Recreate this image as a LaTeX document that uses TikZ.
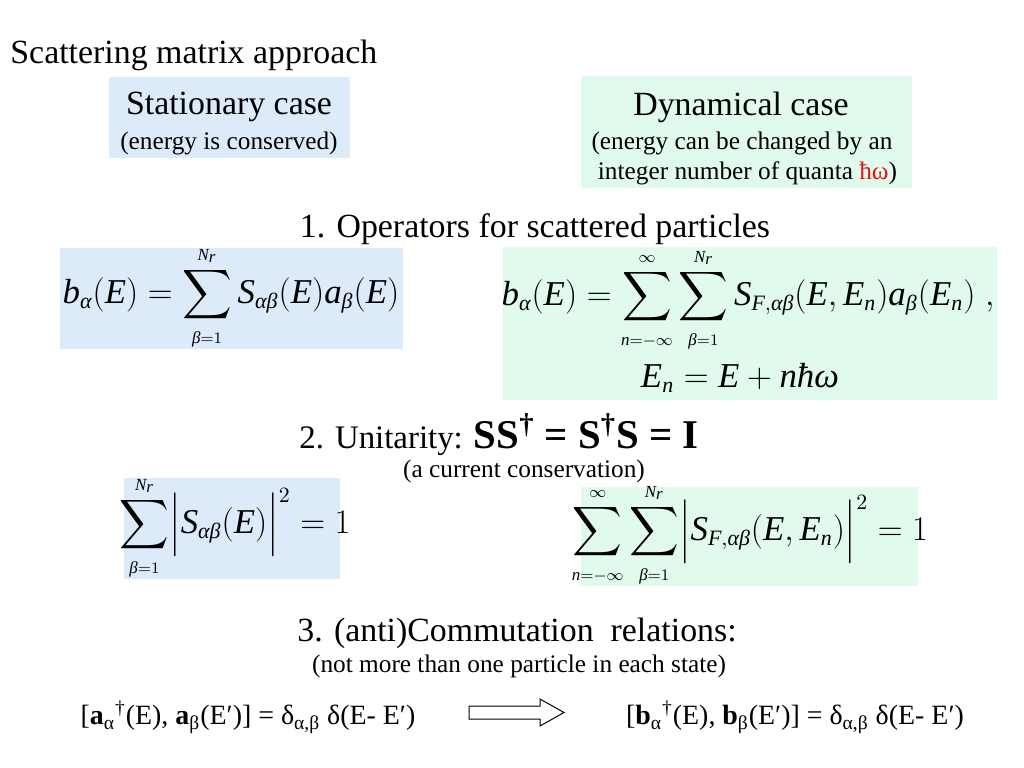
\documentclass[tikz,border=0pt]{standalone}
\usepackage{amsmath}
\usepackage{fontspec}
\setmainfont{Liberation Serif}
\usetikzlibrary{positioning}
% italic math letters taken from the text font
\DeclareSymbolFont{tletters}{TU}{\rmdefault}{m}{it}
\newcommand{\setmathit}[1]{\Umathcode`#1="7 \symtletters `#1\relax}
\setmathit a \setmathit b \setmathit n \setmathit r
\setmathit E \setmathit F \setmathit N \setmathit S
\AtBeginDocument{%
  \Umathchardef\alpha="7 \symtletters "03B1
  \Umathchardef\beta="7 \symtletters "03B2
  \Umathchardef\omega="7 \symtletters "03C9
  \Umathchardef\hbar="7 \symtletters "0127
}
\DeclareMathSizes{17.5}{17.5}{11}{8.5}
\newcommand{\limsz}[1]{{\scriptscriptstyle #1}}
\definecolor{statblue}{RGB}{221,234,250}
\definecolor{dyngreen}{RGB}{224,250,236}
\definecolor{quantared}{RGB}{230,20,20}
\newcommand{\headsize}{\fontsize{17}{20}\selectfont}
\newcommand{\remsize}{\fontsize{12.7}{15}\selectfont}
\tikzset{
  statbox/.style={
    rectangle, fill=statblue, inner sep=0pt
  },
  dynbox/.style={
    rectangle, fill=dyngreen, inner sep=0pt
  },
  headline/.style={
    inner sep=0pt, font=\headsize
  },
  remark/.style={
    inner sep=0pt, font=\remsize
  },
  formula/.style={
    inner sep=0pt, font=\fontsize{17.5}{21}\selectfont
  },
  relation/.style={
    inner sep=0pt, font=\fontsize{14}{16}\selectfont
  }
}

\begin{document}
\begin{tikzpicture}[x=0.5bp, y=-0.5bp]
  \useasboundingbox (0,0) rectangle (1024,768);

  \node[headline, anchor=west] (title) at (10,55) {Scattering matrix approach};

  % coloured boxes
  \node[statbox, minimum width=120.5bp, minimum height=40.5bp] (stat) at (229.5,117.5) {};
  \node[dynbox, minimum width=165.5bp, minimum height=56bp] (dyn) at (746.5,132) {};
  \node[statbox, minimum width=171.5bp, minimum height=50.5bp] (statopbox) at (231.5,298.5) {};
  \node[dynbox, minimum width=247bp, minimum height=76.5bp] (dynopbox) at (750,323.5) {};
  \node[statbox, minimum width=108bp, minimum height=50.5bp] (statsumbox) at (232,528.5) {};
  \node[dynbox, minimum width=168.5bp, minimum height=49.5bp] (dynsumbox) at (749.5,536.5) {};

  \node[headline] (statname) at (229,107) {Stationary case};
  \node[remark] (statnote) at (229,143) {(energy is conserved)};
  \node[headline] (dynname) at (741,107) {Dynamical case};
  \node[remark] (dynnote) at (742,143) {(energy can be changed by an};
  \node[remark] (dynnotes) at (747.5,173) {integer number of quanta \textcolor{quantared}{ħω})};

  \node[headline] (ops) at (535,229) {1. Operators for scattered particles};

  \node[formula] (statop) at (231,298)
    {$\displaystyle b_\alpha(E) = \sum_{\limsz{\beta=1}}^{\limsz{N_r}} S_{\alpha\beta}(E)a_\beta(E)$};
  \node[formula] (dynop) at (748,300)
    {$\displaystyle b_\alpha(E) = \sum_{\limsz{n=-\infty}}^{\limsz{\infty}}\sum_{\limsz{\beta=1}}^{\limsz{N_r}} S_{F,\alpha\beta}(E,E_n)a_\beta(E_n)\;,$};
  \node[formula] (energy) at (740,378) {$E_n = E + n\hbar\omega$};

  \node[headline, font=\fontsize{16.5}{20}\selectfont] (unit) at (499,435)
    {2. Unitarity: {\fontsize{20.5}{24}\selectfont\bfseries SS\textsuperscript{†} = S\textsuperscript{†}S = I}};
  \node[remark] (unitnote) at (524,471) {(a current conservation)};

  \node[formula] (statsum) at (235,528)
    {$\displaystyle \sum_{\limsz{\beta=1}}^{\limsz{N_r}}\Bigl|S_{\alpha\beta}(E)\Bigr|^2 = 1$};
  \node[formula] (dynsum) at (750,535)
    {$\displaystyle \sum_{\limsz{n=-\infty}}^{\limsz{\infty}}\sum_{\limsz{\beta=1}}^{\limsz{N_r}}\Bigl|S_{F,\alpha\beta}(E,E_n)\Bigr|^2 = 1$};

  \node[headline] (comm) at (517,633) {3. (anti)Commutation \ relations:};
  \node[remark] (commnote) at (519,666) {(not more than one particle in each state)};

  \node[relation] (statcomm) at (248,717)
    {[\textbf{a}\textsubscript{α}\textsuperscript{†}(E), \textbf{a}\textsubscript{β}(E′)] = δ\textsubscript{α,β} δ(E- E′)};
  \node[relation] (dyncomm) at (795,717)
    {[\textbf{b}\textsubscript{α}\textsuperscript{†}(E), \textbf{b}\textsubscript{β}(E′)] = δ\textsubscript{α,β} δ(E- E′)};

  % hollow block arrow between the two relations
  \draw[fill=white, line width=0.5pt] (469,706) -- (540,706) -- (540,699) -- (564,712.5)
    -- (540,726) -- (540,719) -- (469,719) -- cycle;
\end{tikzpicture}
\end{document}
